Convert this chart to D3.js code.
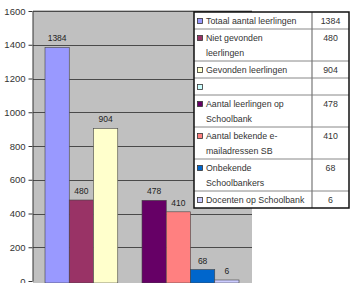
<!DOCTYPE html>
<html>
<head>
<meta charset="utf-8">
<script src="https://cdn.jsdelivr.net/npm/d3@7"></script>
<style>
  body { margin: 0; background: #fff; }
  svg { display: block; font-family: "Liberation Sans", Arial, sans-serif; }
</style>
</head>
<body>
<svg id="chart" width="350" height="283"></svg>
<script>
// series shown as bars (one category, eight series)
const seriesNames = ["Totaal aantal leerlingen", "Niet gevonden leerlingen", "Gevonden leerlingen", "",
  "Aantal leerlingen op Schoolbank", "Aantal bekende e-mailadressen SB", "Onbekende Schoolbankers", "Docenten op Schoolbank"];
const seriesValues = [1384, 480, 904, null, 478, 410, 68, 6];
const seriesColors = ["#9999ff", "#993366", "#ffffcc", "#ccffff", "#660066", "#ff8080", "#0066cc", "#ccccff"];
// how the names wrap inside the data table
const legendLines = [["Totaal aantal leerlingen"], ["Niet gevonden", "leerlingen"], ["Gevonden leerlingen"], [""],
  ["Aantal leerlingen op", "Schoolbank"], ["Aantal bekende e-", "mailadressen SB"], ["Onbekende", "Schoolbankers"], ["Docenten op Schoolbank"]];
const yTicks = [0, 200, 400, 600, 800, 1000, 1200, 1400, 1600];

const svg = d3.select("#chart");
const plot = { left: 33, right: 252, top: 11, bottom: 281 };

const y = d3.scaleLinear().domain([0, 1600]).range([plot.bottom, plot.top]);
const x = d3.scaleBand().domain(d3.range(seriesNames.length)).range([45, 239]).padding(0);

// plot area
svg.append("rect")
  .attr("x", plot.left).attr("y", plot.top - 1)
  .attr("width", plot.right - plot.left).attr("height", 283 - plot.top + 1)
  .attr("fill", "#c0c0c0");

// gridlines
svg.append("g").selectAll("line")
  .data(yTicks.filter(d => d > 0))
  .join("line")
  .attr("x1", plot.left).attr("x2", plot.right)
  .attr("y1", d => Math.round(y(d)) + 0.5).attr("y2", d => Math.round(y(d)) + 0.5)
  .attr("stroke", "#4a4a4a").attr("stroke-width", 1);

// y axis
const yAxis = svg.append("g")
  .attr("transform", `translate(${plot.left - 0.5},0)`)
  .call(d3.axisLeft(y).tickValues(yTicks).tickFormat(d3.format("d"))
    .tickSize(4).tickPadding(3).tickSizeOuter(0));
yAxis.select(".domain").attr("stroke", "#333");
yAxis.selectAll(".tick line").attr("stroke", "#333");
yAxis.selectAll(".tick text").attr("font-size", 9.5).attr("fill", "#333")
  .attr("font-family", "'Liberation Sans', Arial, sans-serif");

// bars
const bars = seriesValues.map((v, i) => ({ v, i })).filter(d => d.v != null);
svg.append("g").selectAll("rect")
  .data(bars)
  .join("rect")
  .attr("x", d => x(d.i))
  .attr("y", d => y(d.v))
  .attr("width", x.bandwidth())
  .attr("height", d => plot.bottom - y(d.v) + 2)
  .attr("fill", d => seriesColors[d.i])
  .attr("stroke", "#444").attr("stroke-width", 0.6);

// value labels
svg.append("g").selectAll("text")
  .data(bars)
  .join("text")
  .attr("x", d => x(d.i) + x.bandwidth() / 2)
  .attr("y", d => y(d.v) - 6)
  .attr("text-anchor", "middle")
  .attr("font-size", 8.5).attr("fill", "#222")
  .text(d => d.v);

// data table (legend)
const table = { left: 194, mid: 312, right: 349, top: 12 };
const rowH = lines => 2 + lines * 15;
let rows = [], yy = table.top;
legendLines.forEach((lines, i) => {
  rows.push({ i, lines, top: yy, h: rowH(lines.length) });
  yy += rowH(lines.length);
});
const tableBottom = yy;

const tg = svg.append("g");
tg.append("rect")
  .attr("x", table.left).attr("y", table.top)
  .attr("width", table.right - table.left).attr("height", tableBottom - table.top)
  .attr("fill", "#fff");

// inner row lines
tg.selectAll("line.row")
  .data(rows.slice(1))
  .join("line")
  .attr("class", "row")
  .attr("x1", table.left).attr("x2", table.right)
  .attr("y1", d => d.top).attr("y2", d => d.top)
  .attr("stroke", "#888").attr("stroke-width", 1);
tg.append("line")
  .attr("x1", table.mid).attr("x2", table.mid)
  .attr("y1", table.top).attr("y2", tableBottom)
  .attr("stroke", "#777").attr("stroke-width", 1.2);
tg.append("rect")
  .attr("x", table.left).attr("y", table.top)
  .attr("width", table.right - table.left).attr("height", tableBottom - table.top)
  .attr("fill", "none").attr("stroke", "#111").attr("stroke-width", 1.5);

// swatches
tg.selectAll("rect.sw")
  .data(rows)
  .join("rect")
  .attr("class", "sw")
  .attr("x", 197.5).attr("y", d => d.top + 6.5)
  .attr("width", 5).attr("height", 5)
  .attr("fill", d => seriesColors[d.i])
  .attr("stroke", "#333").attr("stroke-width", 0.8);

// names
rows.forEach(r => {
  r.lines.forEach((ln, k) => {
    tg.append("text")
      .attr("x", 206).attr("y", r.top + 12 + k * 15)
      .attr("font-size", 8.8).attr("fill", "#333")
      .text(ln);
  });
  if (seriesValues[r.i] != null) {
    tg.append("text")
      .attr("x", (table.mid + table.right) / 2).attr("y", r.top + 12)
      .attr("text-anchor", "middle")
      .attr("font-size", 8.8).attr("fill", "#333")
      .text(seriesValues[r.i]);
  }
});
</script>
</body>
</html>
